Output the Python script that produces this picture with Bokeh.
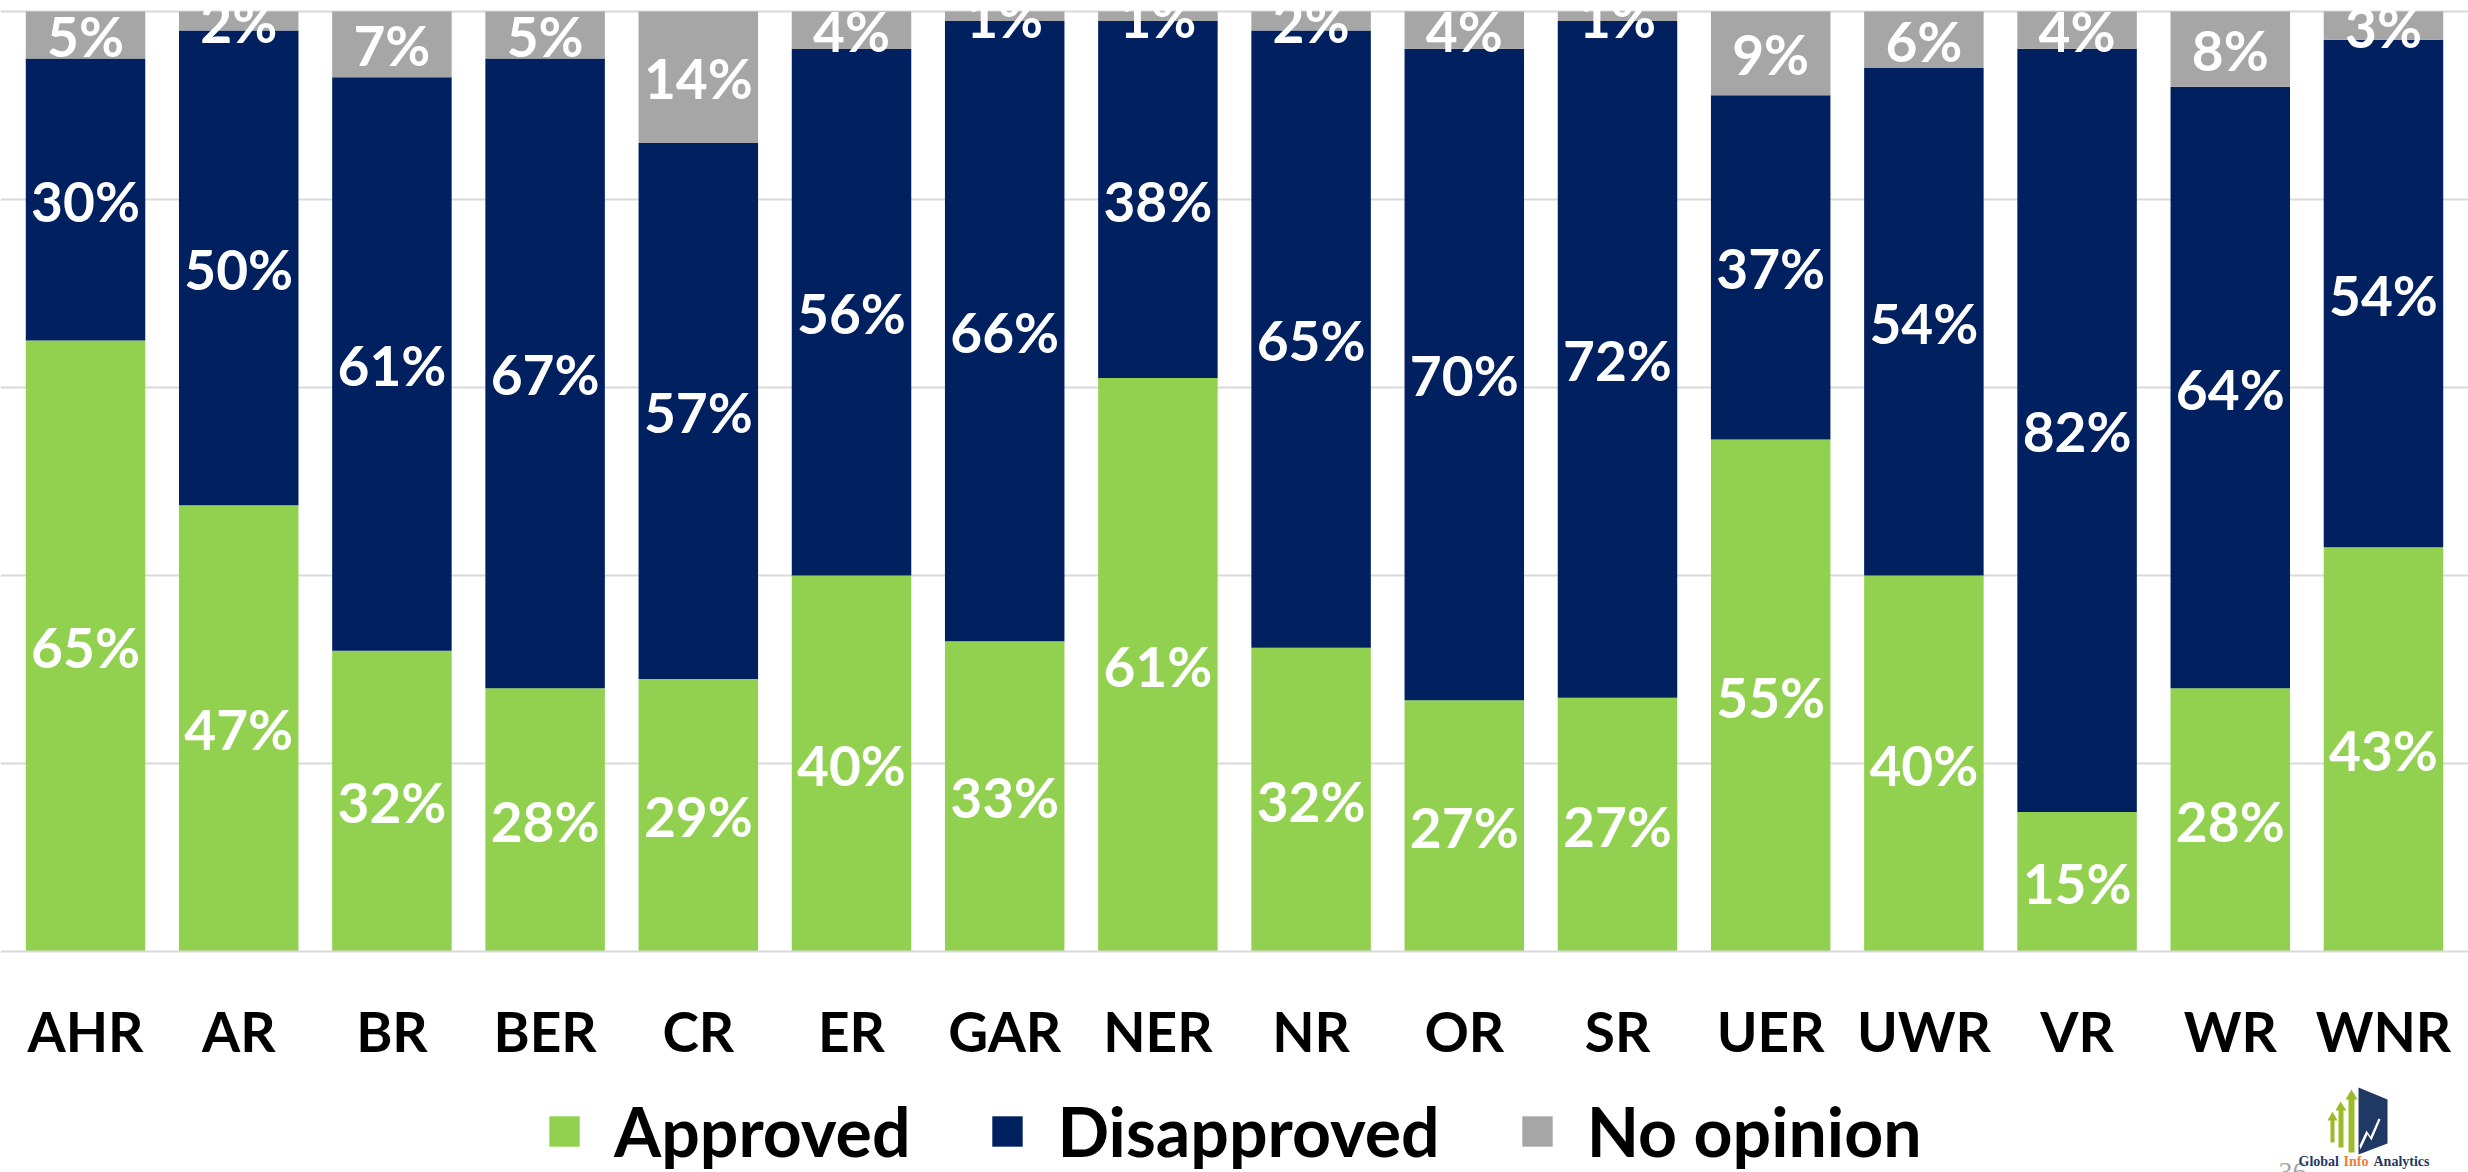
from bokeh.plotting import figure
from bokeh.models import ColumnDataSource, Legend, LegendItem, Range1d, FactorRange, Label, PolyAnnotation
from bokeh.core.properties import value
from bokeh.embed import file_html
from bokeh.resources import INLINE

categories = ["AHR", "AR", "BR", "BER", "CR", "ER", "GAR", "NER", "NR", "OR", "SR", "UER", "UWR", "VR", "WR", "WNR"]
approved = [65, 47, 32, 28, 29, 40, 33, 61, 32, 27, 27, 55, 40, 15, 28, 43]
disapproved = [30, 50, 61, 67, 57, 56, 66, 38, 65, 70, 72, 37, 54, 82, 64, 54]
no_opinion = [5, 2, 7, 5, 14, 4, 1, 1, 2, 4, 1, 9, 6, 4, 8, 3]
series_names = ["Approved", "Disapproved", "No opinion"]
colors = ["#92D050", "#002060", "#A6A6A6"]

FONT = "Lato"

# normalise to 100% stacked shares
tot = [a + d + n for a, d, n in zip(approved, disapproved, no_opinion)]
a_s = [a / t for a, t in zip(approved, tot)]
d_s = [d / t for d, t in zip(disapproved, tot)]
a_top = a_s
d_top = [x + y for x, y in zip(a_s, d_s)]
n_top = [1.0] * len(categories)

src = ColumnDataSource(dict(
    cat=categories,
    a0=[0.0] * len(categories), a1=a_top,
    d0=a_top, d1=d_top,
    n0=d_top, n1=n_top,
    a_mid=[v / 2 for v in a_top],
    d_mid=[(x + y) / 2 for x, y in zip(a_top, d_top)],
    n_mid=[(x + y) / 2 for x, y in zip(d_top, n_top)],
    a_lab=[f"{v}%" for v in approved],
    d_lab=[f"{v}%" for v in disapproved],
    n_lab=[f"{v}%" for v in no_opinion],
))

W, H = 2468, 1172
PX = 940.0     # pixels per 100 %
ZERO = 951     # pixel row of the 0 % line
TOP = 11       # pixel row of the 100 % line
p = figure(x_range=FactorRange(*categories, range_padding=0.006875),
           y_range=Range1d(-(H - ZERO) / PX, 1 + TOP / PX),
           width=W, height=H, output_backend="svg", toolbar_location=None,
           min_border_left=0, min_border_right=0, min_border_top=0, min_border_bottom=0)
p.outline_line_color = None
p.background_fill_color = "white"
p.border_fill_color = "white"

rs = []
for (lo, hi), c in zip([("a0", "a1"), ("d0", "d1"), ("n0", "n1")], colors):
    r = p.vbar(x="cat", bottom=lo, top=hi, width=0.78, source=src, fill_color=c, line_color=None)
    rs.append(r)

for mid, lab in [("a_mid", "a_lab"), ("d_mid", "d_lab"), ("n_mid", "n_lab")]:
    p.text(x="cat", y=mid, text=lab, source=src, text_color="white", text_align="center",
           text_baseline="middle", text_font=value(FONT), text_font_style="bold",
           text_font_size="55px", y_offset=1)

p.yaxis.visible = False
p.ygrid.ticker = [0.2, 0.4, 0.6, 0.8, 1.0]
p.ygrid.grid_line_color = "#D9D9D9"
p.ygrid.grid_line_width = 2
p.xgrid.grid_line_color = None

ax = p.xaxis[0]
ax.fixed_location = 0
ax.axis_line_color = "#D9D9D9"
ax.axis_line_width = 2
ax.major_tick_line_color = None
ax.minor_tick_line_color = None
ax.major_tick_out = 0
ax.major_label_standoff = 46
ax.major_label_text_font = FONT
ax.major_label_text_font_style = "bold"
ax.major_label_text_font_size = "55px"
ax.major_label_text_color = "black"

legend = Legend(items=[LegendItem(label=n, renderers=[r]) for n, r in zip(series_names, rs)],
                orientation="horizontal", location=(545, 1),
                glyph_width=38, glyph_height=38, label_standoff=31, spacing=78,
                label_text_font=FONT, label_text_font_style="bold", label_text_font_size="68px",
                label_text_color="black", border_line_color=None, background_fill_alpha=0,
                padding=0, margin=0)
p.add_layout(legend, "center")


# logo (page pixel coordinates converted to frame-relative screen units)
def fx(px):
    return px


def fy(py):
    return H - py


SERIF = "Liberation Serif"
p.add_layout(Label(x=fx(2278), y=fy(1180), x_units="screen", y_units="screen", text="36",
                   text_font=SERIF, text_font_size="28px", text_color="#A6A6A6"))
p.add_layout(Label(x=fx(2298), y=fy(1168), x_units="screen", y_units="screen", text="Global",
                   text_font=SERIF, text_font_style="bold", text_font_size="14px", text_color="#1F3864"))
p.add_layout(Label(x=fx(2343), y=fy(1168), x_units="screen", y_units="screen", text="Info",
                   text_font=SERIF, text_font_style="bold", text_font_size="14px", text_color="#ED7D31"))
p.add_layout(Label(x=fx(2373), y=fy(1168), x_units="screen", y_units="screen", text="Analytics",
                   text_font=SERIF, text_font_style="bold", text_font_size="14px", text_color="#1F3864"))

shapes = [
    ([2358, 2387, 2387, 2358], [1087, 1099, 1143, 1154], "#1F3864"),
    ([2330, 2334, 2334, 2330], [1118, 1118, 1142, 1142], "#9BBB2A"),
    ([2327, 2332, 2337], [1120, 1111, 1120], "#9BBB2A"),
    ([2338, 2343, 2343, 2338], [1108, 1108, 1147, 1147], "#9BBB2A"),
    ([2335, 2340, 2346], [1110, 1101, 1110], "#9BBB2A"),
    ([2348, 2354, 2354, 2348], [1097, 1097, 1152, 1152], "#9BBB2A"),
    ([2345, 2351, 2357], [1099, 1089, 1099], "#9BBB2A"),
    ([2359, 2366, 2370, 2378, 2380, 2371, 2367, 2360], [1145, 1130, 1136, 1118, 1119, 1140, 1134, 1149], "white"),
]
for xs, ys, c in shapes:
    p.add_layout(PolyAnnotation(xs=[fx(v) for v in xs], ys=[fy(v) for v in ys],
                                xs_units="screen", ys_units="screen",
                                fill_color=c, fill_alpha=1.0, line_color=None))

open("out.html", "w").write(file_html(p, INLINE))
